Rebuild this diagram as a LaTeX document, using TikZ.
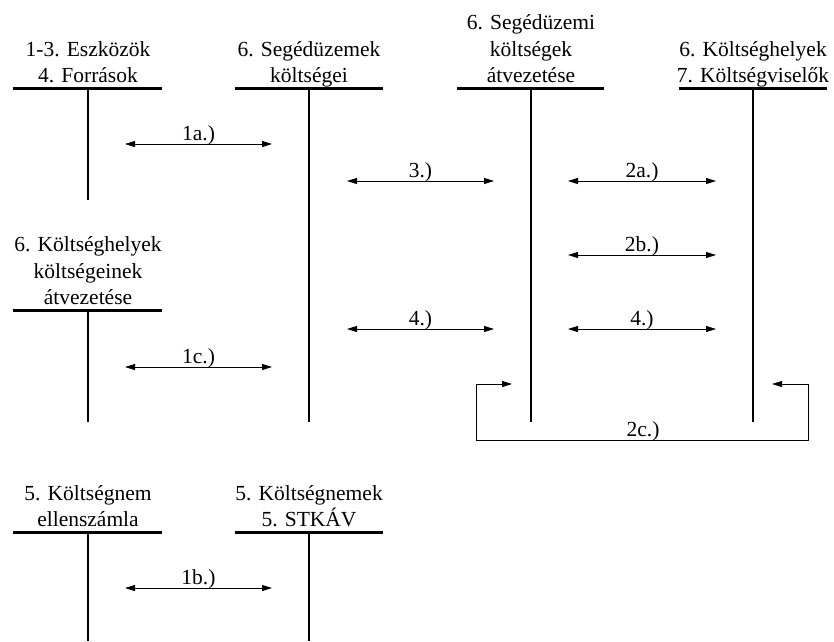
\documentclass[tikz,border=0pt]{standalone}
\usepackage{fontspec}
\setmainfont{Liberation Serif}
\usetikzlibrary{arrows.meta}
\begin{document}
\begin{tikzpicture}[x=1pt,y=-1pt,
  hdr/.style={anchor=south, align=center, inner xsep=0pt, inner ysep=5.5pt, text depth=0pt,
    font=\fontsize{21.5}{26.5}\selectfont},
  tline/.style={line width=2.2pt},
  flow/.style={line width=0.9pt, {Triangle[length=10pt,width=6pt]}-{Triangle[length=10pt,width=6pt]}},
  lbl/.style={anchor=base, inner sep=0pt, font=\fontsize{21.5}{26}\selectfont}]
\useasboundingbox (0,0) rectangle (834,641);

% ---- T-account headers ----
\node[hdr] (h1) at (88,88.5) {1-3. Eszközök\\4. Források};
\node[hdr] (h2) at (309,88.5) {6. Segédüzemek\\költségei};
\node[hdr] (h3) at (531,88.5) {6. Segédüzemi\\költségek\\átvezetése};
\node[hdr] (h4) at (753,88.5) {6. Költséghelyek\\7. Költségviselők};
\node[hdr] (h5) at (88,310.5) {6. Költséghelyek\\költségeinek\\átvezetése};
\node[hdr] (h6) at (88,532.5) {5. Költségnem\\ellenszámla};
\node[hdr] (h7) at (309,532.5) {5. Költségnemek\\5. STKÁV};

% ---- T-account lines ----
\coordinate (t1l) at (13,88.5);  \coordinate (t1r) at (162,88.5);
\coordinate (t1t) at (88,88.5);  \coordinate (t1b) at (88,200);
\coordinate (t2l) at (235,88.5); \coordinate (t2r) at (383,88.5);
\coordinate (t2t) at (309,88.5); \coordinate (t2b) at (309,422);
\coordinate (t3l) at (457,88.5); \coordinate (t3r) at (604,88.5);
\coordinate (t3t) at (531,88.5); \coordinate (t3b) at (531,422);
\coordinate (t4l) at (679,88.5); \coordinate (t4r) at (827,88.5);
\coordinate (t4t) at (753,88.5); \coordinate (t4b) at (753,422);
\coordinate (t5l) at (13,310.5); \coordinate (t5r) at (162,310.5);
\coordinate (t5t) at (88,310.5); \coordinate (t5b) at (88,422);
\coordinate (t6l) at (13,532.5); \coordinate (t6r) at (162,532.5);
\coordinate (t6t) at (88,532.5); \coordinate (t6b) at (88,641);
\coordinate (t7l) at (235,532.5); \coordinate (t7r) at (383,532.5);
\coordinate (t7t) at (309,532.5); \coordinate (t7b) at (309,641);
\foreach \i in {1,...,7}{
  \draw[tline] (t\i l) -- (t\i r);
  \draw[tline] (t\i t) -- (t\i b);
}

% ---- flows ----
\coordinate (a1aL) at (125,144);  \coordinate (a1aR) at (272,144);
\coordinate (a3L)  at (347,181);  \coordinate (a3R)  at (494,181);
\coordinate (a2aL) at (568,181);  \coordinate (a2aR) at (716,181);
\coordinate (a2bL) at (568,255);  \coordinate (a2bR) at (716,255);
\coordinate (a4lL) at (347,329);  \coordinate (a4lR) at (494,329);
\coordinate (a4rL) at (568,329);  \coordinate (a4rR) at (716,329);
\coordinate (a1cL) at (125,367);  \coordinate (a1cR) at (272,367);
\coordinate (a1bL) at (125,588);  \coordinate (a1bR) at (272,588);

\draw[flow] (a1aL) -- (a1aR);
\draw[flow] (a3L) -- (a3R);
\draw[flow] (a2aL) -- (a2aR);
\draw[flow] (a2bL) -- (a2bR);
\draw[flow] (a4lL) -- (a4lR);
\draw[flow] (a4rL) -- (a4rR);
\draw[flow] (a1cL) -- (a1cR);
\draw[flow] (a1bL) -- (a1bR);

\node[lbl] (l1a) at (198.5,140) {1a.)};
\node[lbl] (l3)  at (420.5,177) {3.)};
\node[lbl] (l2a) at (642,177) {2a.)};
\node[lbl] (l2b) at (642,251.5) {2b.)};
\node[lbl] (l4l) at (420.5,325) {4.)};
\node[lbl] (l4r) at (642,325) {4.)};
\node[lbl] (l1c) at (198.5,363) {1c.)};
\node[lbl] (l1b) at (198.5,584) {1b.)};

% ---- 2c loop ----
\coordinate (c2L) at (512,384);
\coordinate (c2R) at (772,384);
\coordinate (c2a) at (476,384);
\coordinate (c2b) at (476,440);
\coordinate (c2c) at (808,440);
\coordinate (c2d) at (808,384);
\draw[flow] (c2L) -- (c2a) -- (c2b) -- (c2c) -- (c2d) -- (c2R);
\node[lbl] (l2c) at (643,436) {2c.)};
\end{tikzpicture}
\end{document}
